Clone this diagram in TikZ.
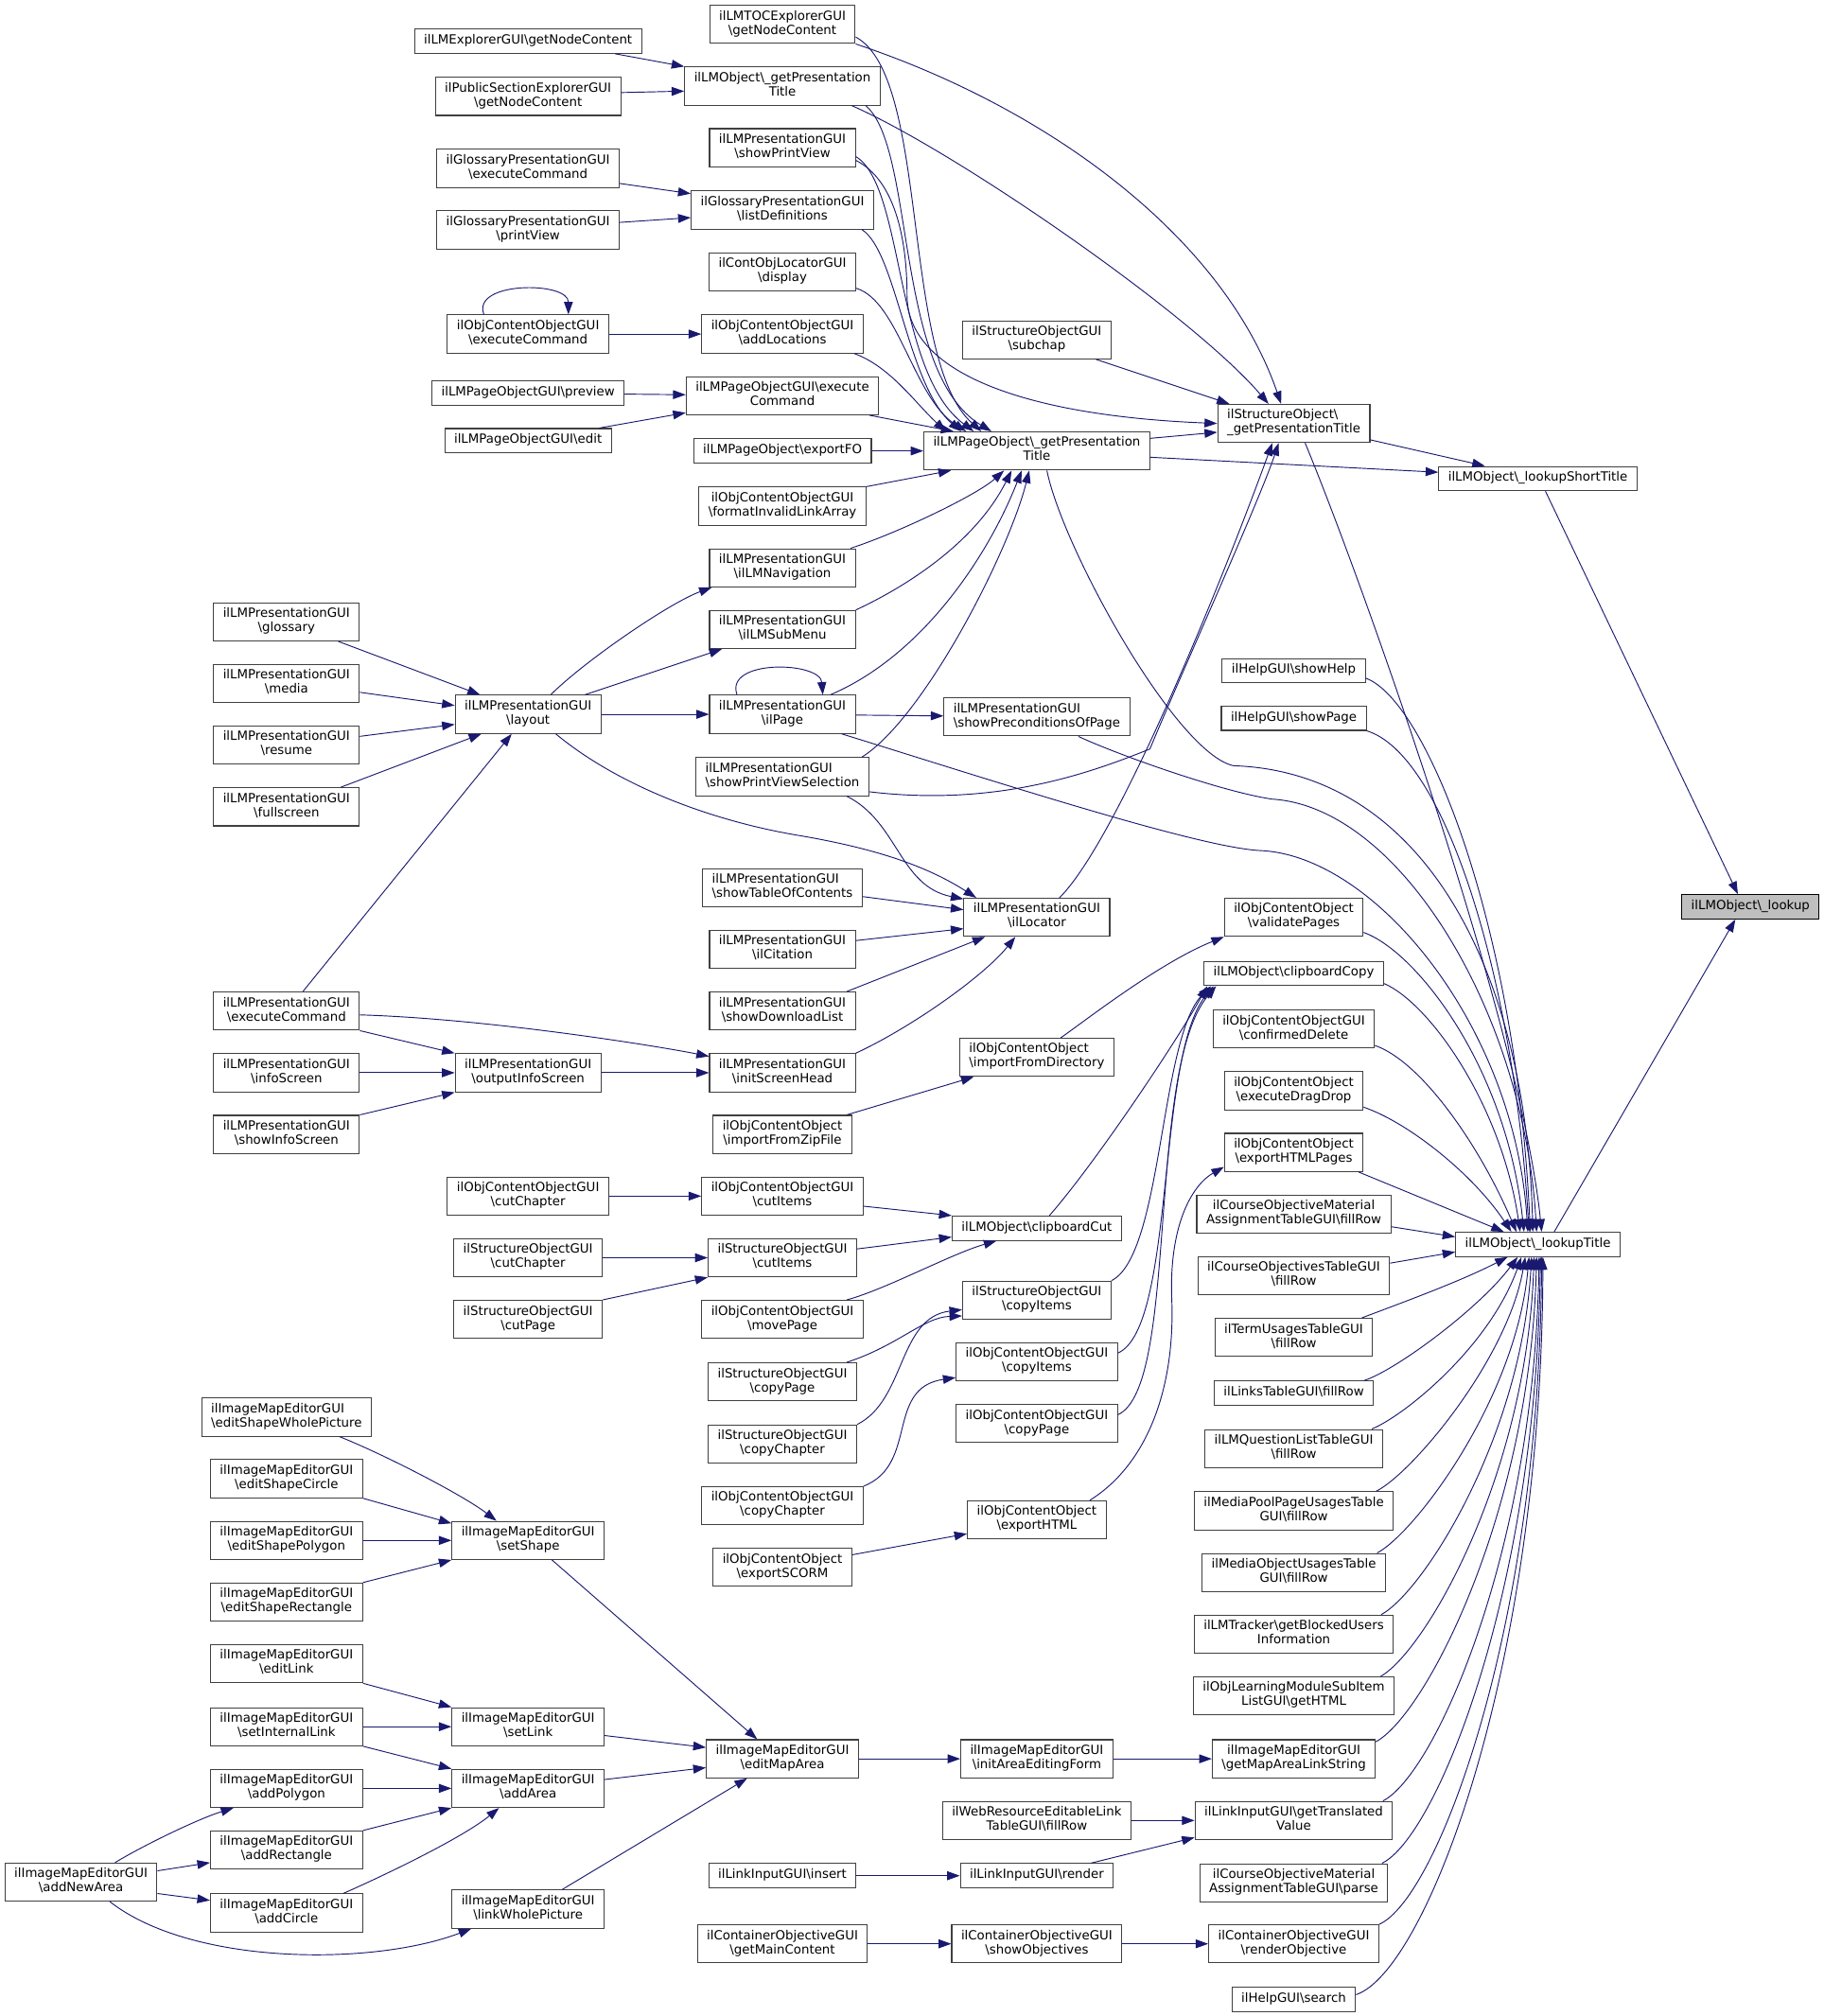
\documentclass[tikz,border=0pt]{standalone}
\usepackage{fontspec}
\setmainfont{DejaVu Sans}
\usetikzlibrary{arrows.meta}
\definecolor{edgeblue}{HTML}{191970}
\definecolor{boxgrey}{HTML}{404040}
\definecolor{rootgrey}{HTML}{BFBFBF}
\newcommand{\bksl}{\textbackslash}

\begin{document}
\begin{tikzpicture}[x=1.0185pt, y=-1.0185pt,
    box/.style={draw=boxgrey, line width=0.8pt, fill=white, inner xsep=7.5pt, inner ysep=4pt, align=center,
        font=\fontsize{10}{11.25}\selectfont, execute at begin node=\strut, execute at end node=\strut},
    lbox/.style={box, align=left},
    root/.style={box, draw=black, fill=rootgrey},
    call/.style={draw=edgeblue, line width=0.7pt, -{Triangle[length=10pt,width=7pt]}}]
\useasboundingbox (0,0) rectangle (1419.7,1569.2);

\node at (1362.5,705.8) [root] (lookup) {ilLMObject\bksl\_lookup};
\node at (1197,372.5) [box] (lST) {ilLMObject\bksl\_lookupShortTitle};
\node at (1197,968.6) [box] (lT) {ilLMObject\bksl\_lookupTitle};

\node at (1007,329.6) [lbox] (sGPT) {ilStructureObject\bksl\\\_getPresentationTitle};
\node at (1007,522) [box] (helpShowHelp) {ilHelpGUI\bksl showHelp};
\node at (1007,559) [box] (helpShowPage) {ilHelpGUI\bksl showPage};
\node at (1007,714) [box] (ocValid) {ilObjContentObject\\\bksl validatePages};
\node at (1007,757.7) [box] (clipCopy) {ilLMObject\bksl clipboardCopy};
\node at (1007,801) [box] (confirmedDelete) {ilObjContentObjectGUI\\\bksl confirmedDelete};
\node at (1007,849) [box] (execDragDrop) {ilObjContentObject\\\bksl executeDragDrop};
\node at (1007,897) [box] (exportHTMLPages) {ilObjContentObject\\\bksl exportHTMLPages};
\node at (1007,945) [box] (comFill) {ilCourseObjectiveMaterial\\AssignmentTableGUI\bksl fillRow};
\node at (1007,993) [box] (cotFill) {ilCourseObjectivesTableGUI\\\bksl fillRow};
\node at (1007,1041) [box] (tuFill) {ilTermUsagesTableGUI\\\bksl fillRow};
\node at (1007,1084.5) [box] (linksFill) {ilLinksTableGUI\bksl fillRow};
\node at (1007,1127.5) [box] (lmqFill) {ilLMQuestionListTableGUI\\\bksl fillRow};
\node at (1007,1176) [box] (mppFill) {ilMediaPoolPageUsagesTable\\GUI\bksl fillRow};
\node at (1007,1224) [box] (mouFill) {ilMediaObjectUsagesTable\\GUI\bksl fillRow};
\node at (1007,1272) [box] (tracker) {ilLMTracker\bksl getBlockedUsers\\Information};
\node at (1007,1320) [box] (subItem) {ilObjLearningModuleSubItem\\ListGUI\bksl getHTML};
\node at (1007,1369) [box] (imeLinkStr) {ilImageMapEditorGUI\\\bksl getMapAreaLinkString};
\node at (1007,1417) [box] (liTrans) {ilLinkInputGUI\bksl getTranslated\\Value};
\node at (1007,1465.5) [box] (comParse) {ilCourseObjectiveMaterial\\AssignmentTableGUI\bksl parse};
\node at (1007,1513) [box] (coRender) {ilContainerObjectiveGUI\\\bksl renderObjective};
\node at (1007,1556.5) [box] (helpSearch) {ilHelpGUI\bksl search};

\node at (807,351) [box] (pGPT) {ilLMPageObject\bksl\_getPresentation\\Title};
\node at (807,264.5) [box] (subchap) {ilStructureObjectGUI\\\bksl subchap};
\node at (807,558) [lbox] (lpPrecond) {ilLMPresentationGUI\\\bksl showPreconditionsOfPage};
\node at (807,714) [box] (lpLoc) {ilLMPresentationGUI\\\bksl ilLocator};
\node at (807,823) [lbox] (ocImpDir) {ilObjContentObject\\\bksl importFromDirectory};
\node at (807,956) [box] (clipCut) {ilLMObject\bksl clipboardCut};
\node at (807,1012) [box] (sogCopyItems) {ilStructureObjectGUI\\\bksl copyItems};
\node at (807,1060) [box] (ocgCopyItems) {ilObjContentObjectGUI\\\bksl copyItems};
\node at (807,1108) [box] (ocgCopyPage) {ilObjContentObjectGUI\\\bksl copyPage};
\node at (807,1183) [box] (ocExportHTML) {ilObjContentObject\\\bksl exportHTML};
\node at (807,1369) [box] (imeInitForm) {ilImageMapEditorGUI\\\bksl initAreaEditingForm};
\node at (807,1417) [box] (wrFill) {ilWebResourceEditableLink\\TableGUI\bksl fillRow};
\node at (807,1460) [box] (liRender) {ilLinkInputGUI\bksl render};
\node at (807,1513) [box] (coShow) {ilContainerObjectiveGUI\\\bksl showObjectives};

\node at (609,19) [box] (tocNC) {ilLMTOCExplorerGUI\\\bksl getNodeContent};
\node at (609,67) [box] (oGPT) {ilLMObject\bksl\_getPresentation\\Title};
\node at (609,115) [box] (showPV) {ilLMPresentationGUI\\\bksl showPrintView};
\node at (609,163.5) [box] (glList) {ilGlossaryPresentationGUI\\\bksl listDefinitions};
\node at (609,211.6) [box] (colDisp) {ilContObjLocatorGUI\\\bksl display};
\node at (609,260) [box] (ocgAddLoc) {ilObjContentObjectGUI\\\bksl addLocations};
\node at (609,308) [box] (lpgExec) {ilLMPageObjectGUI\bksl execute\\Command};
\node at (609,351) [box] (lpExportFO) {ilLMPageObject\bksl exportFO};
\node at (609,394) [box] (ocgFmt) {ilObjContentObjectGUI\\\bksl formatInvalidLinkArray};
\node at (609,442) [box] (lpNav) {ilLMPresentationGUI\\\bksl ilLMNavigation};
\node at (609,490) [box] (lpSub) {ilLMPresentationGUI\\\bksl ilLMSubMenu};
\node at (609,556) [box] (lpPage) {ilLMPresentationGUI\\\bksl ilPage};
\node at (609,604.5) [lbox] (lpPVSel) {ilLMPresentationGUI\\\bksl showPrintViewSelection};
\node at (609,691) [lbox] (lpTOC) {ilLMPresentationGUI\\\bksl showTableOfContents};
\node at (609,739) [box] (lpCit) {ilLMPresentationGUI\\\bksl ilCitation};
\node at (609,787) [box] (lpDL) {ilLMPresentationGUI\\\bksl showDownloadList};
\node at (609,835) [box] (lpInitHead) {ilLMPresentationGUI\\\bksl initScreenHead};
\node at (609,883) [box] (ocImpZip) {ilObjContentObject\\\bksl importFromZipFile};
\node at (609,931) [box] (ocgCutItems) {ilObjContentObjectGUI\\\bksl cutItems};
\node at (609,979) [box] (sogCutItems) {ilStructureObjectGUI\\\bksl cutItems};
\node at (609,1027) [box] (ocgMovePage) {ilObjContentObjectGUI\\\bksl movePage};
\node at (609,1075.6) [box] (sogCopyPage) {ilStructureObjectGUI\\\bksl copyPage};
\node at (609,1124) [box] (sogCopyChapter) {ilStructureObjectGUI\\\bksl copyChapter};
\node at (609,1172) [box] (ocgCopyChapter) {ilObjContentObjectGUI\\\bksl copyChapter};
\node at (609,1220) [box] (ocSCORM) {ilObjContentObject\\\bksl exportSCORM};
\node at (609,1369) [box] (imeEditMap) {ilImageMapEditorGUI\\\bksl editMapArea};
\node at (609,1460) [box] (liInsert) {ilLinkInputGUI\bksl insert};
\node at (609,1513) [box] (coMain) {ilContainerObjectiveGUI\\\bksl getMainContent};

\node at (411,32) [box] (expNC) {ilLMExplorerGUI\bksl getNodeContent};
\node at (411,75) [box] (pubNC) {ilPublicSectionExplorerGUI\\\bksl getNodeContent};
\node at (411,131) [box] (glExec) {ilGlossaryPresentationGUI\\\bksl executeCommand};
\node at (411,179) [box] (glPrint) {ilGlossaryPresentationGUI\\\bksl printView};
\node at (411,260) [box] (ocgExec) {ilObjContentObjectGUI\\\bksl executeCommand};
\node at (411,306) [box] (lpgPreview) {ilLMPageObjectGUI\bksl preview};
\node at (411,343) [box] (lpgEdit) {ilLMPageObjectGUI\bksl edit};
\node at (411,556) [box] (lpLayout) {ilLMPresentationGUI\\\bksl layout};
\node at (411,835) [box] (lpOutInfo) {ilLMPresentationGUI\\\bksl outputInfoScreen};
\node at (411,931) [box] (ocgCutCh) {ilObjContentObjectGUI\\\bksl cutChapter};
\node at (411,979) [box] (sogCutCh) {ilStructureObjectGUI\\\bksl cutChapter};
\node at (411,1027) [box] (sogCutPage) {ilStructureObjectGUI\\\bksl cutPage};
\node at (411,1199) [box] (imeSetShape) {ilImageMapEditorGUI\\\bksl setShape};
\node at (411,1344) [box] (imeSetLink) {ilImageMapEditorGUI\\\bksl setLink};
\node at (411,1392) [box] (imeAddArea) {ilImageMapEditorGUI\\\bksl addArea};
\node at (411,1486) [box] (imeLinkWhole) {ilImageMapEditorGUI\\\bksl linkWholePicture};

\node at (223,484) [box] (lpGlossary) {ilLMPresentationGUI\\\bksl glossary};
\node at (223,532) [box] (lpMedia) {ilLMPresentationGUI\\\bksl media};
\node at (223,580) [box] (lpResume) {ilLMPresentationGUI\\\bksl resume};
\node at (223,628) [box] (lpFull) {ilLMPresentationGUI\\\bksl fullscreen};
\node at (223,787) [box] (lpExec) {ilLMPresentationGUI\\\bksl executeCommand};
\node at (223,835) [box] (lpInfo) {ilLMPresentationGUI\\\bksl infoScreen};
\node at (223,883) [box] (lpShowInfo) {ilLMPresentationGUI\\\bksl showInfoScreen};
\node at (223,1103) [lbox] (imeWhole) {ilImageMapEditorGUI\\\bksl editShapeWholePicture};
\node at (223,1151) [box] (imeCircle) {ilImageMapEditorGUI\\\bksl editShapeCircle};
\node at (223,1199) [box] (imePolygon) {ilImageMapEditorGUI\\\bksl editShapePolygon};
\node at (223,1247) [box] (imeRect) {ilImageMapEditorGUI\\\bksl editShapeRectangle};
\node at (223,1295) [box] (imeEditLink) {ilImageMapEditorGUI\\\bksl editLink};
\node at (223,1344) [box] (imeSetInt) {ilImageMapEditorGUI\\\bksl setInternalLink};
\node at (223,1392) [box] (imeAddPoly) {ilImageMapEditorGUI\\\bksl addPolygon};
\node at (223,1440) [box] (imeAddRect) {ilImageMapEditorGUI\\\bksl addRectangle};
\node at (223,1489) [box] (imeAddCircle) {ilImageMapEditorGUI\\\bksl addCircle};
\node at (63,1465) [box] (imeNewArea) {ilImageMapEditorGUI\\\bksl addNewArea};

\draw[call] ([xshift=6pt]lST.south) -- ([xshift=-10pt]lookup.north);
\draw[call] ([xshift=13pt]lT.north) -- ([xshift=-12pt]lookup.south);
\draw[call] ([yshift=-13pt]sGPT.east) -- ([xshift=-42pt]lST.north);
\draw[call] ([yshift=-5pt]pGPT.east) -- ([yshift=5pt]lST.west);

\draw[call] (tocNC.south east) .. controls +(150,50) and +(-45,-130) .. ([xshift=-10pt]sGPT.north);
\draw[call] ([xshift=55pt]oGPT.south) .. controls +(80,35) and +(-60,-70) .. ([xshift=-20pt]sGPT.north);
\draw[call] ([xshift=47pt]subchap.south) -- ([xshift=-51pt]sGPT.north);
\draw[call] ([yshift=10pt]pGPT.east) -- ([yshift=-7pt]sGPT.west);
\draw[call] ([yshift=-10pt]showPV.east) .. controls +(30,15) and +(0,-45) .. (706,230) .. controls +(0,60) and +(-150,-6) .. (sGPT.west);
\draw[call] ([yshift=-12pt]lpPVSel.east) .. controls +(100,12) and +(-45,18) .. (895,583) .. controls +(25,-60) and +(-15,45) .. ([xshift=-12pt]sGPT.south);
\draw[call] ([xshift=18pt]lpLoc.north) .. controls +(45,-45) and +(-40,110) .. ([xshift=-17pt]sGPT.south);

\draw[call] ([yshift=-10pt]tocNC.east) .. controls +(58,31) and +(-63,-56) .. ([xshift=-44pt]pGPT.north);
\draw[call] ([xshift=66pt]oGPT.south) .. controls +(39,33) and +(-76,-46) .. ([xshift=-36pt]pGPT.north);
\draw[call] ([yshift=-7pt]showPV.east) .. controls +(38,23) and +(-62,-46) .. ([xshift=-50pt]pGPT.north);
\draw[call] ([xshift=63pt]glList.south) .. controls +(27,17) and +(-42,-36) .. ([xshift=-60pt]pGPT.north);
\draw[call] ([yshift=-13pt]colDisp.east) .. controls +(33,10) and +(-41,-26) .. ([xshift=-56pt]pGPT.north);
\draw[call] ([xshift=57pt]ocgAddLoc.south) .. controls +(28,10) and +(-23,-21) .. ([xshift=-72pt]pGPT.north);
\draw[call] ([xshift=69pt]lpgExec.south) -- ([xshift=-66pt]pGPT.north);
\draw[call] (lpExportFO) -- (pGPT);
\draw[call] (ocgFmt.north east) -- ([xshift=-68pt]pGPT.south);
\draw[call] ([xshift=54pt]lpNav.north) .. controls +(37,-12) and +(-21,19) .. ([xshift=-26pt]pGPT.south);
\draw[call] (lpSub.north east) .. controls +(43,-20) and +(-27,54) .. ([xshift=-20pt]pGPT.south);
\draw[call] ([xshift=38pt]lpPage.north) .. controls +(73,-31) and +(-25,64) .. ([xshift=-12pt]pGPT.south);
\draw[call] ([xshift=63pt]lpPVSel.north) .. controls +(48,-30) and +(-16,64) .. ([xshift=-6pt]pGPT.south);

\draw[call] ([xshift=8pt]pGPT.south) .. controls +(12,60) and +(-45,-10) .. (960,596) .. controls +(150,5) and +(-5,-200) .. ([xshift=-4pt]lT.north);
\draw[call] ([xshift=47pt]lpPage.south) .. controls +(110,34) and +(-50,-3) .. (980,662) .. controls +(90,3) and +(-10,-160) .. ([xshift=-8pt]lT.north);
\draw[call] ([xshift=33pt]lpPrecond.south) .. controls +(30,14) and +(-40,-6) .. (990,622) .. controls +(100,6) and +(-10,-170) .. ([xshift=-1pt]lT.north);
\draw[call] ([xshift=9pt]sGPT.south) .. controls +(44,106) and +(-16,-159) .. ([xshift=3pt]lT.north);
\draw[call] ([yshift=-6pt]helpShowHelp.east) .. controls +(47,17) and +(-11,-239) .. ([xshift=-6pt]lT.north);
\draw[call] (helpShowPage.south east) .. controls +(60,18) and +(-12,-200) .. ([xshift=-7pt]lT.north);
\draw[call] ([yshift=-12pt]ocValid.east) .. controls +(40,14) and +(-14,-130) .. ([xshift=-11pt]lT.north);
\draw[call] ([yshift=-8pt]clipCopy.east) .. controls +(35,15) and +(-15,-100) .. ([xshift=-14pt]lT.north);
\draw[call] ([yshift=-13pt]confirmedDelete.east) .. controls +(35,12) and +(-30,-70) .. ([xshift=-17pt]lT.north);
\draw[call] ([yshift=-13pt]execDragDrop.east) .. controls +(35,12) and +(-30,-45) .. ([xshift=-21pt]lT.north);
\draw[call] ([xshift=-4pt]exportHTMLPages.south east) -- ([xshift=-27pt]lT.north);
\draw[call] ([yshift=-10pt]comFill.east) -- ([yshift=6pt]lT.west);
\draw[call] ([yshift=10pt]cotFill.east) -- ([yshift=-6pt]lT.west);
\draw[call] ([xshift=-9pt]tuFill.north east) .. controls +(40,-15) and +(-35,18) .. ([xshift=-24pt]lT.south);
\draw[call] ([xshift=-8pt]linksFill.north east) .. controls +(25,-8) and +(-30,40) .. ([xshift=-16pt]lT.south);
\draw[call] ([xshift=-9pt]lmqFill.north east) .. controls +(25,-10) and +(-25,70) .. ([xshift=-13pt]lT.south);
\draw[call] ([xshift=-14pt]mppFill.north east) .. controls +(28,-14) and +(-14,80) .. ([xshift=-10pt]lT.south);
\draw[call] ([xshift=-7pt]mouFill.north east) .. controls +(30,-16) and +(-10,110) .. ([xshift=-7pt]lT.south);
\draw[call] ([xshift=-10pt]tracker.north east) .. controls +(33,-18) and +(-8,140) .. ([xshift=-5pt]lT.south);
\draw[call] ([xshift=-11pt]subItem.north east) .. controls +(35,-20) and +(-6,170) .. ([xshift=-3pt]lT.south);
\draw[call] ([yshift=-2pt]imeLinkStr.north east) .. controls +(38,-20) and +(-5,200) .. ([xshift=-1pt]lT.south);
\draw[call] ([xshift=-8pt]liTrans.north east) .. controls +(40,-20) and +(-4,230) .. ([xshift=1pt]lT.south);
\draw[call] ([xshift=-5pt]comParse.north east) .. controls +(42,-20) and +(-3,260) .. ([xshift=2pt]lT.south);
\draw[call] (coRender.north east) .. controls +(45,-20) and +(-2,290) .. ([xshift=3pt]lT.south);
\draw[call] ([yshift=4pt]helpSearch.east) .. controls +(54,-18) and +(-1,322) .. ([xshift=4pt]lT.south);

\draw[call] ([xshift=41pt]lpGlossary.south) -- ([xshift=-38pt]lpLayout.north);
\draw[call] ([yshift=-7pt]lpMedia.east) -- ([yshift=7pt]lpLayout.west);
\draw[call] ([yshift=7pt]lpResume.east) -- ([yshift=-8pt]lpLayout.west);
\draw[call] ([xshift=43pt]lpFull.north) -- ([xshift=-37pt]lpLayout.south);
\draw[call] ([xshift=13pt]lpExec.north) -- ([xshift=-13pt]lpLayout.south);
\draw[call] ([xshift=18pt]lpLayout.north) .. controls +(26,-26) and +(-33,12) .. ([xshift=-56pt]lpNav.south);
\draw[call] ([xshift=45pt]lpLayout.north) -- ([xshift=-48pt]lpSub.south);
\draw[call] (lpLayout) -- (lpPage);
\draw[call] ([xshift=22pt]lpLayout.south) .. controls +(47,39) and +(-70,-12) .. (620,650) .. controls +(60,10) and +(-39,-25) .. ([xshift=-48pt]lpLoc.north);
\draw[call] ([xshift=-36pt]lpPage.north) .. controls +(-10,-28) and +(-2,-26) .. ([xshift=32pt]lpPage.north);
\draw[call] (lpPage) -- (lpPrecond);
\draw[call] ([xshift=51pt]lpPVSel.south) .. controls +(40,20) and +(-50,-10) .. ([yshift=-1pt]lpLoc.north west);
\draw[call] ([yshift=-7pt]lpTOC.east) -- ([yshift=6pt]lpLoc.west);
\draw[call] ([yshift=7pt]lpCit.east) -- ([yshift=-9pt]lpLoc.west);
\draw[call] ([xshift=51pt]lpDL.north) -- ([xshift=-41pt]lpLoc.south);
\draw[call] (lpInitHead.north east) .. controls +(43,-20) and +(-25,31) .. ([xshift=-17pt]lpLoc.south);
\draw[call] ([yshift=-3pt]lpExec.east) .. controls +(100,3) and +(-40,-8) .. ([yshift=13pt]lpInitHead.west);
\draw[call] (lpExec.south east) -- (lpOutInfo.north west);
\draw[call] (lpInfo) -- (lpOutInfo);
\draw[call] (lpShowInfo.north east) -- (lpOutInfo.south west);
\draw[call] (lpOutInfo) -- (lpInitHead);

\draw[call] ([xshift=51pt]ocImpZip.north) -- ([xshift=-50pt]ocImpDir.south);
\draw[call] ([xshift=19pt]ocImpDir.north) .. controls +(20,-14) and +(-50,20) .. (ocValid.south west);
\draw[call] (ocgCutCh) -- (ocgCutItems);
\draw[call] (sogCutCh) -- (sogCutItems);
\draw[call] (sogCutPage.north east) -- (sogCutItems.south west);
\draw[call] ([yshift=-8pt]ocgCutItems.east) -- (clipCut.north west);
\draw[call] ([yshift=7pt]sogCutItems.east) -- ([yshift=-7pt]clipCut.west);
\draw[call] ([xshift=51pt]ocgMovePage.north) .. controls +(30,-8) and +(-35,10) .. ([xshift=-32pt]clipCut.south);
\draw[call] ([xshift=10pt]clipCut.north) .. controls +(35,-40) and +(-25,45) .. ([xshift=3pt]clipCopy.south west);
\draw[call] (sogCopyItems.north east) .. controls +(40,-20) and +(-40,40) .. ([xshift=6pt]clipCopy.south west);
\draw[call] ([yshift=7pt]ocgCopyItems.east) .. controls +(45,-20) and +(-45,55) .. ([xshift=8pt]clipCopy.south west);
\draw[call] ([yshift=7pt]ocgCopyPage.east) .. controls +(48,-22) and +(-55,65) .. ([xshift=10pt]clipCopy.south west);
\draw[call] ([xshift=42pt]ocExportHTML.north) .. controls +(45,-28) and +(3,70) .. (912,1010) .. controls +(-2,-60) and +(-23,13) .. ([yshift=4pt]exportHTMLPages.south west);
\draw[call] ([yshift=10pt]ocSCORM.east) -- ([yshift=-11pt]ocExportHTML.west);
\draw[call] ([xshift=51pt]sogCopyPage.north) .. controls +(40,-13) and +(-30,1) .. ([yshift=3pt]sogCopyItems.south west);
\draw[call] (sogCopyChapter.north east) .. controls +(38,-19) and +(-50,6) .. ([yshift=8pt]sogCopyItems.south west);
\draw[call] (ocgCopyChapter.north east) .. controls +(43,-17) and +(-55,8) .. ([yshift=3pt]ocgCopyItems.south west);

\draw[call] (lpgPreview) -- (lpgExec);
\draw[call] ([xshift=-10pt]lpgEdit.north east) -- ([yshift=2pt]lpgExec.south west);
\draw[call] (ocgExec) -- (ocgAddLoc);
\draw[call] ([xshift=-35pt]ocgExec.north) .. controls +(-10,-26) and +(0,-26) .. ([xshift=32pt]ocgExec.north);
\draw[call] ([yshift=-12pt]glExec.east) -- ([yshift=13pt]glList.west);
\draw[call] ([yshift=6pt]glPrint.east) -- ([yshift=-6pt]glList.west);
\draw[call] ([xshift=69pt]expNC.south) -- (oGPT.north west);
\draw[call] ([yshift=3pt]pubNC.east) -- ([yshift=-4pt]oGPT.west);

\draw[call] ([xshift=42pt]imeWhole.south) .. controls +(35,14) and +(-26,-20) .. ([xshift=-25pt]imeSetShape.north);
\draw[call] (imeCircle.south east) -- ([yshift=-2pt]imeSetShape.north west);
\draw[call] (imePolygon) -- (imeSetShape);
\draw[call] (imeRect.north east) -- (imeSetShape.south west);
\draw[call] (imeEditLink.south east) -- (imeSetLink.north west);
\draw[call] (imeSetInt) -- (imeSetLink);
\draw[call] (imeSetInt.south east) -- (imeAddArea.north west);
\draw[call] (imeAddPoly) -- (imeAddArea);
\draw[call] (imeAddRect.north east) -- (imeAddArea.south west);
\draw[call] ([xshift=45pt]imeAddCircle.north) .. controls +(32,-14) and +(-28,23) .. ([xshift=-23pt]imeAddArea.south);
\draw[call] ([xshift=27pt]imeNewArea.north) .. controls +(25,-15) and +(-26,8) .. ([xshift=-42pt]imeAddPoly.south);
\draw[call] ([yshift=9pt]imeNewArea.east) -- ([yshift=-10pt]imeAddRect.west);
\draw[call] ([yshift=-9pt]imeNewArea.east) -- ([yshift=10pt]imeAddCircle.west);
\draw[call] ([xshift=23pt]imeNewArea.south) .. controls +(64,50) and +(-76,29) .. ([xshift=-45pt]imeLinkWhole.south);
\draw[call] ([xshift=19pt]imeSetShape.south) -- ([xshift=-20pt]imeEditMap.north);
\draw[call] ([yshift=-7pt]imeSetLink.east) -- ([yshift=9pt]imeEditMap.west);
\draw[call] ([yshift=7pt]imeAddArea.east) -- ([yshift=-7pt]imeEditMap.west);
\draw[call] ([xshift=27pt]imeLinkWhole.north) -- ([xshift=-28pt]imeEditMap.south);
\draw[call] (imeEditMap) -- (imeInitForm);
\draw[call] (imeInitForm) -- (imeLinkStr);
\draw[call] (wrFill) -- (liTrans);
\draw[call] (liInsert) -- (liRender);
\draw[call] ([xshift=43pt]liRender.north) -- ([yshift=2pt]liTrans.south west);
\draw[call] (coMain) -- (coShow);
\draw[call] (coShow) -- (coRender);
\end{tikzpicture}
\end{document}
